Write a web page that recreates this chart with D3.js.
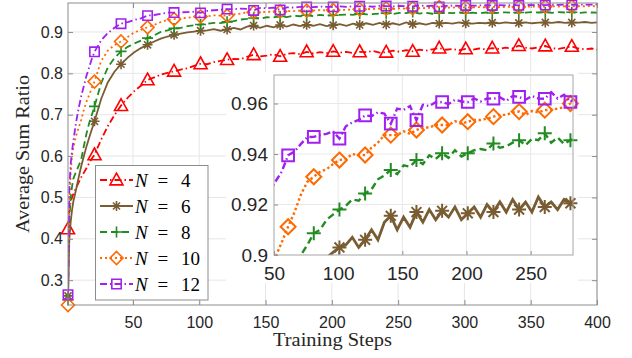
<!DOCTYPE html>
<html>
<head>
<meta charset="utf-8">
<script src="https://cdn.jsdelivr.net/npm/d3@7"></script>
<style>
  html, body { margin: 0; padding: 0; background: #fff; }
  svg { display: block; }
</style>
</head>
<body>
<svg id="chart" width="632" height="358"></svg>
<script>
// ---- data ----
const earlySteps = [1, 2, 3, 4, 5, 7, 9, 11, 13, 15, 17, 19, 21];
const steps = earlySteps.concat(d3.range(26, 400, 5), [400]);

const n4 = [0.424, 0.468, 0.489, 0.500, 0.508, 0.522, 0.536, 0.549, 0.560, 0.571, 0.583, 0.594, 0.603,
  0.640, 0.672, 0.699, 0.722, 0.741, 0.757, 0.770, 0.784, 0.790, 0.797, 0.801, 0.805, 0.809, 0.812, 0.818, 0.823,
  0.822, 0.827, 0.830, 0.833, 0.835, 0.834, 0.840, 0.845, 0.841, 0.843, 0.846, 0.841, 0.847, 0.849, 0.846, 0.852, 0.848, 0.851, 0.849, 0.853,
  0.850, 0.852, 0.849, 0.852, 0.851, 0.854, 0.850, 0.851, 0.855, 0.852, 0.856, 0.853, 0.857, 0.855, 0.858, 0.861, 0.857, 0.859, 0.856, 0.859,
  0.857, 0.860, 0.858, 0.861, 0.859, 0.862, 0.860, 0.867, 0.862, 0.860, 0.863, 0.866, 0.861, 0.859, 0.862, 0.865, 0.860, 0.858, 0.860, 0.857];

const n6 = [0.262, 0.400, 0.440, 0.468, 0.490, 0.518, 0.548, 0.576, 0.600, 0.624, 0.645, 0.665, 0.684,
  0.738, 0.778, 0.804, 0.822, 0.838, 0.851, 0.861, 0.869, 0.877, 0.884, 0.889, 0.893, 0.896, 0.899, 0.901, 0.903,
  0.904, 0.907, 0.903, 0.906, 0.910, 0.906, 0.913, 0.9155, 0.910, 0.915, 0.911, 0.917, 0.913, 0.918, 0.914, 0.9175, 0.915, 0.919, 0.914, 0.9165,
  0.919, 0.915, 0.920, 0.917, 0.921, 0.917, 0.922, 0.918, 0.921, 0.917, 0.923, 0.919, 0.921, 0.918, 0.922, 0.9205, 0.922, 0.920, 0.923, 0.921,
  0.920, 0.922, 0.921, 0.9225, 0.921, 0.923, 0.9215, 0.922, 0.923, 0.921, 0.9225, 0.923, 0.922, 0.924, 0.922, 0.923, 0.9225, 0.924, 0.922, 0.923];

const n8 = [0.252, 0.450, 0.500, 0.525, 0.545, 0.562, 0.576, 0.592, 0.625, 0.655, 0.680, 0.700, 0.720,
  0.776, 0.814, 0.837, 0.853, 0.864, 0.872, 0.879, 0.885, 0.892, 0.900, 0.904, 0.9086, 0.910, 0.914, 0.916, 0.918,
  0.9195, 0.922, 0.9215, 0.9244, 0.926, 0.930, 0.9315, 0.9337, 0.932, 0.9355, 0.935, 0.9376, 0.936, 0.9395, 0.938, 0.9403, 0.9385, 0.9415, 0.939, 0.9403,
  0.9415, 0.942, 0.9415, 0.9442, 0.9425, 0.943, 0.9445, 0.9455, 0.9435, 0.946, 0.9455, 0.9482, 0.9445, 0.9465, 0.944, 0.9455, 0.9465, 0.9455, 0.947, 0.946,
  0.9465, 0.945, 0.947, 0.946, 0.9465, 0.9475, 0.946, 0.947, 0.9465, 0.948, 0.947, 0.9475, 0.946, 0.948, 0.947, 0.9475, 0.946, 0.9475, 0.947, 0.9465];

const n10 = [0.240, 0.480, 0.560, 0.600, 0.620, 0.648, 0.668, 0.688, 0.712, 0.732, 0.748, 0.765, 0.780,
  0.830, 0.855, 0.868, 0.877, 0.888, 0.899, 0.905, 0.9112, 0.917, 0.924, 0.929, 0.931, 0.933, 0.934, 0.936, 0.9376,
  0.938, 0.940, 0.9395, 0.9396, 0.9425, 0.9445, 0.9475, 0.9475, 0.9475, 0.949, 0.948, 0.9495, 0.9505, 0.9505, 0.9515, 0.9515, 0.9515, 0.953, 0.952, 0.9528,
  0.9535, 0.9535, 0.954, 0.9548, 0.9555, 0.9555, 0.9565, 0.9568, 0.9555, 0.957, 0.9565, 0.9574, 0.9575, 0.958, 0.9585, 0.960, 0.9585, 0.959, 0.9595, 0.959,
  0.9595, 0.960, 0.9595, 0.9605, 0.960, 0.9605, 0.961, 0.9605, 0.961, 0.9615, 0.961, 0.9615, 0.962, 0.9615, 0.962, 0.962, 0.9625, 0.962, 0.9625, 0.962];

const n12 = [0.265, 0.520, 0.580, 0.612, 0.635, 0.680, 0.715, 0.745, 0.770, 0.795, 0.815, 0.835, 0.852,
  0.880, 0.897, 0.910, 0.920, 0.924, 0.929, 0.933, 0.9395, 0.941, 0.944, 0.9467, 0.9468, 0.9475, 0.948, 0.949, 0.9461,
  0.951, 0.9525, 0.9535, 0.9553, 0.955, 0.9565, 0.956, 0.952, 0.958, 0.9575, 0.959, 0.9534, 0.9595, 0.959, 0.9605, 0.9606, 0.9598, 0.9615, 0.9608, 0.9606,
  0.962, 0.9608, 0.962, 0.9619, 0.9625, 0.961, 0.963, 0.9626, 0.9615, 0.963, 0.962, 0.9619, 0.9645, 0.962, 0.9635, 0.9606, 0.963, 0.9635, 0.963, 0.964,
  0.9635, 0.964, 0.9645, 0.964, 0.9648, 0.9645, 0.965, 0.9645, 0.9652, 0.965, 0.9655, 0.965, 0.9658, 0.9655, 0.966, 0.9655, 0.966, 0.9662, 0.966, 0.9665];

const legendN = [4, 6, 8, 10, 12];
const seriesValues = [n4, n6, n8, n10, n12];
const colors = ['#ff0000', '#7a5c32', '#228b22', '#ff6a00', '#a020f0'];
const dashes = ['7,3,1.5,3', null, '7,4', '2,3', '7,3,1.5,3'];
const markerTypes = ['triangle', 'star', 'plus', 'diamond', 'square'];

const xTicks = [50, 100, 150, 200, 250, 300, 350, 400];
const yTicks = [0.3, 0.4, 0.5, 0.6, 0.7, 0.8, 0.9];
const insetXTicks = [50, 100, 150, 200, 250];
const insetYTicks = [0.9, 0.92, 0.94, 0.96];

// ---- layout ----
const svg = d3.select('#chart');
const plot = {left: 68, right: 597, top: 3, bottom: 305};
const ins = {left: 274, right: 573, top: 75, bottom: 255};

const x = d3.scaleLinear().domain([1, 400]).range([plot.left, plot.right]);
const y = d3.scaleLinear().domain([0.24, 0.97]).range([plot.bottom, plot.top]);
const ix = d3.scaleLinear().domain([50, 283]).range([ins.left, ins.right]);
const iy = d3.scaleLinear().domain([0.9, 0.9713]).range([ins.bottom, ins.top]);

const series = legendN.map((n, i) => ({
  n: n,
  points: steps.map((s, j) => [s, seriesValues[i][j]]),
  color: colors[i],
  dash: dashes[i],
  marker: markerTypes[i]
}));

function markerPath(type, r) {
  const d = r * 0.707;
  switch (type) {
    case 'triangle': return `M0,${-r * 1.05}L${r},${r * 0.75}L${-r},${r * 0.75}Z`;
    case 'star': return `M${-r},0H${r}M0,${-r}V${r}M${-d},${-d}L${d},${d}M${-d},${d}L${d},${-d}`;
    case 'plus': return `M${-r},0H${r}M0,${-r}V${r}`;
    case 'diamond': return `M0,${-r}L${r},0L0,${r}L${-r},0Z`;
    default: return `M${-r * 0.9},${-r * 0.9}H${r * 0.9}V${r * 0.9}H${-r * 0.9}Z`;
  }
}
const mainSize = {triangle: 6.5, star: 5, plus: 5.5, diamond: 6.5, square: 5.2};
const insetSize = {triangle: 7, star: 7, plus: 7, diamond: 7.5, square: 6.5};

const defs = svg.append('defs');
defs.append('clipPath').attr('id', 'clipMain').append('rect')
  .attr('x', plot.left).attr('y', plot.top)
  .attr('width', plot.right - plot.left).attr('height', plot.bottom - plot.top);
defs.append('clipPath').attr('id', 'clipInset').append('rect')
  .attr('x', ins.left).attr('y', ins.top)
  .attr('width', ins.right - ins.left).attr('height', ins.bottom - ins.top);

// ---- main axes ----
const gridG = svg.append('g');
gridG.selectAll('.vg').data(xTicks).enter().append('line')
  .attr('x1', d => x(d)).attr('x2', d => x(d))
  .attr('y1', plot.top).attr('y2', plot.bottom)
  .attr('stroke', '#e6e6e6').attr('stroke-width', 1);
gridG.selectAll('.hg').data(yTicks).enter().append('line')
  .attr('x1', plot.left).attr('x2', plot.right)
  .attr('y1', d => y(d)).attr('y2', d => y(d))
  .attr('stroke', '#e6e6e6').attr('stroke-width', 1);

function styleAxis(g, size) {
  g.select('.domain').remove();
  g.selectAll('.tick line').attr('stroke', '#8c8c8c');
  g.selectAll('.tick text').attr('fill', '#262626')
    .style('font-family', '"Liberation Sans", Arial, sans-serif')
    .style('font-size', size + 'px');
}

svg.append('g').attr('transform', `translate(0,${plot.bottom})`)
  .call(d3.axisBottom(x).tickValues(xTicks).tickSizeInner(-5).tickSizeOuter(0).tickPadding(12))
  .call(g => styleAxis(g, 16));
svg.append('g').attr('transform', `translate(${plot.left},0)`)
  .call(d3.axisLeft(y).tickValues(yTicks).tickFormat(d3.format('.1f')).tickSizeInner(-5).tickSizeOuter(0).tickPadding(5))
  .call(g => styleAxis(g, 16));
svg.append('g').attr('transform', `translate(0,${plot.top})`)
  .call(d3.axisTop(x).tickValues(xTicks).tickFormat('').tickSizeInner(-5).tickSizeOuter(0))
  .call(g => styleAxis(g, 16));
svg.append('g').attr('transform', `translate(${plot.right},0)`)
  .call(d3.axisRight(y).tickValues(yTicks).tickFormat('').tickSizeInner(-5).tickSizeOuter(0))
  .call(g => styleAxis(g, 16));

// ---- main lines ----
const line = d3.line().x(d => x(d[0])).y(d => y(d[1]));
series.forEach(s => {
  svg.append('path')
    .attr('clip-path', 'url(#clipMain)')
    .attr('d', line(s.points))
    .attr('fill', 'none')
    .attr('stroke', s.color)
    .attr('stroke-width', 1.8)
    .attr('stroke-dasharray', s.dash);
  svg.append('g').selectAll('path')
    .data(s.points.filter(p => (p[0] - 1) % 20 === 0))
    .enter().append('path')
    .attr('transform', p => `translate(${x(p[0])},${y(p[1])})`)
    .attr('d', markerPath(s.marker, mainSize[s.marker]))
    .attr('fill', 'none')
    .attr('stroke', s.color)
    .attr('stroke-width', 1.6);
});

svg.append('rect')
  .attr('x', plot.left).attr('y', plot.top)
  .attr('width', plot.right - plot.left).attr('height', plot.bottom - plot.top)
  .attr('fill', 'none').attr('stroke', '#8c8c8c').attr('stroke-width', 1);

// axis labels
svg.append('text')
  .attr('x', (plot.left + plot.right) / 2).attr('y', 346)
  .attr('text-anchor', 'middle')
  .attr('textLength', 119).attr('lengthAdjust', 'spacingAndGlyphs')
  .style('font-family', '"Liberation Serif", "Times New Roman", serif')
  .style('font-size', '18px').attr('fill', '#262626')
  .text('Training Steps');
svg.append('text')
  .attr('transform', `translate(29,${(plot.top + plot.bottom) / 2}) rotate(-90)`)
  .attr('text-anchor', 'middle')
  .attr('textLength', 158).attr('lengthAdjust', 'spacingAndGlyphs')
  .style('font-family', '"Liberation Serif", "Times New Roman", serif')
  .style('font-size', '18px').attr('fill', '#262626')
  .text('Average Sum Ratio');

// ---- legend ----
const leg = svg.append('g');
leg.append('rect')
  .attr('x', 95.5).attr('y', 165.5).attr('width', 112.5).attr('height', 134.5)
  .attr('fill', '#fff').attr('stroke', '#8c8c8c').attr('stroke-width', 1);
const rowY = d3.scalePoint().domain(legendN).range([180, 284]);
series.forEach(s => {
  const yy = rowY(s.n);
  leg.append('line')
    .attr('x1', 100).attr('x2', 133).attr('y1', yy).attr('y2', yy)
    .attr('stroke', s.color).attr('stroke-width', 1.8)
    .attr('stroke-dasharray', s.dash);
  leg.append('path')
    .attr('transform', `translate(116.5,${yy})`)
    .attr('d', markerPath(s.marker, mainSize[s.marker]))
    .attr('fill', 'none').attr('stroke', s.color).attr('stroke-width', 1.6);
  const t = leg.append('text').attr('y', yy + 6.5)
    .style('font-family', '"Liberation Serif", "Times New Roman", serif')
    .style('font-size', '19px').attr('fill', '#000');
  t.append('tspan').attr('x', 135).style('font-style', 'italic').text('N');
  t.append('tspan').attr('x', 157.5).text('=');
  t.append('tspan').attr('x', 181).text(s.n);
});

// ---- inset ----
const inset = svg.append('g');
inset.append('rect').attr('x', 226).attr('y', 72).attr('width', 352).attr('height', 211).attr('fill', '#fff');
inset.selectAll('.ivg').data(insetXTicks.slice(1)).enter().append('line')
  .attr('x1', d => ix(d)).attr('x2', d => ix(d))
  .attr('y1', ins.top).attr('y2', ins.bottom)
  .attr('stroke', '#e8e8e8');
inset.selectAll('.ihg').data(insetYTicks.slice(1)).enter().append('line')
  .attr('x1', ins.left).attr('x2', ins.right)
  .attr('y1', d => iy(d)).attr('y2', d => iy(d))
  .attr('stroke', '#e8e8e8');

inset.append('g').attr('transform', `translate(0,${ins.bottom})`)
  .call(d3.axisBottom(ix).tickValues(insetXTicks).tickSizeInner(-4).tickSizeOuter(0).tickPadding(12))
  .call(g => styleAxis(g, 19));
inset.append('g').attr('transform', `translate(${ins.left},0)`)
  .call(d3.axisLeft(iy).tickValues(insetYTicks).tickFormat(d3.format('~g')).tickSizeInner(-4).tickSizeOuter(0).tickPadding(6))
  .call(g => styleAxis(g, 19));

const iline = d3.line().x(d => ix(d[0])).y(d => iy(d[1]));
series.slice(1).forEach(s => {
  const pts = s.points.filter(p => p[0] >= 46 && p[0] <= 290);
  inset.append('path')
    .attr('clip-path', 'url(#clipInset)')
    .attr('d', iline(pts))
    .attr('fill', 'none')
    .attr('stroke', s.color)
    .attr('stroke-width', s.dash ? 2.4 : 2.8)
    .attr('stroke-dasharray', s.dash === '2,3' ? '2.4,2.6' : s.dash);
  inset.append('g').selectAll('path')
    .data(pts.filter(p => (p[0] - 1) % 20 === 0 && p[0] >= 50 && p[0] <= 283 && p[1] >= 0.9))
    .enter().append('path')
    .attr('transform', p => `translate(${ix(p[0])},${iy(p[1])})`)
    .attr('d', markerPath(s.marker, insetSize[s.marker]))
    .attr('fill', 'none')
    .attr('stroke', s.color)
    .attr('stroke-width', 2);
});

inset.append('rect')
  .attr('x', ins.left).attr('y', ins.top)
  .attr('width', ins.right - ins.left).attr('height', ins.bottom - ins.top)
  .attr('fill', 'none').attr('stroke', '#a6a6a6').attr('stroke-width', 1);
</script>
</body>
</html>
